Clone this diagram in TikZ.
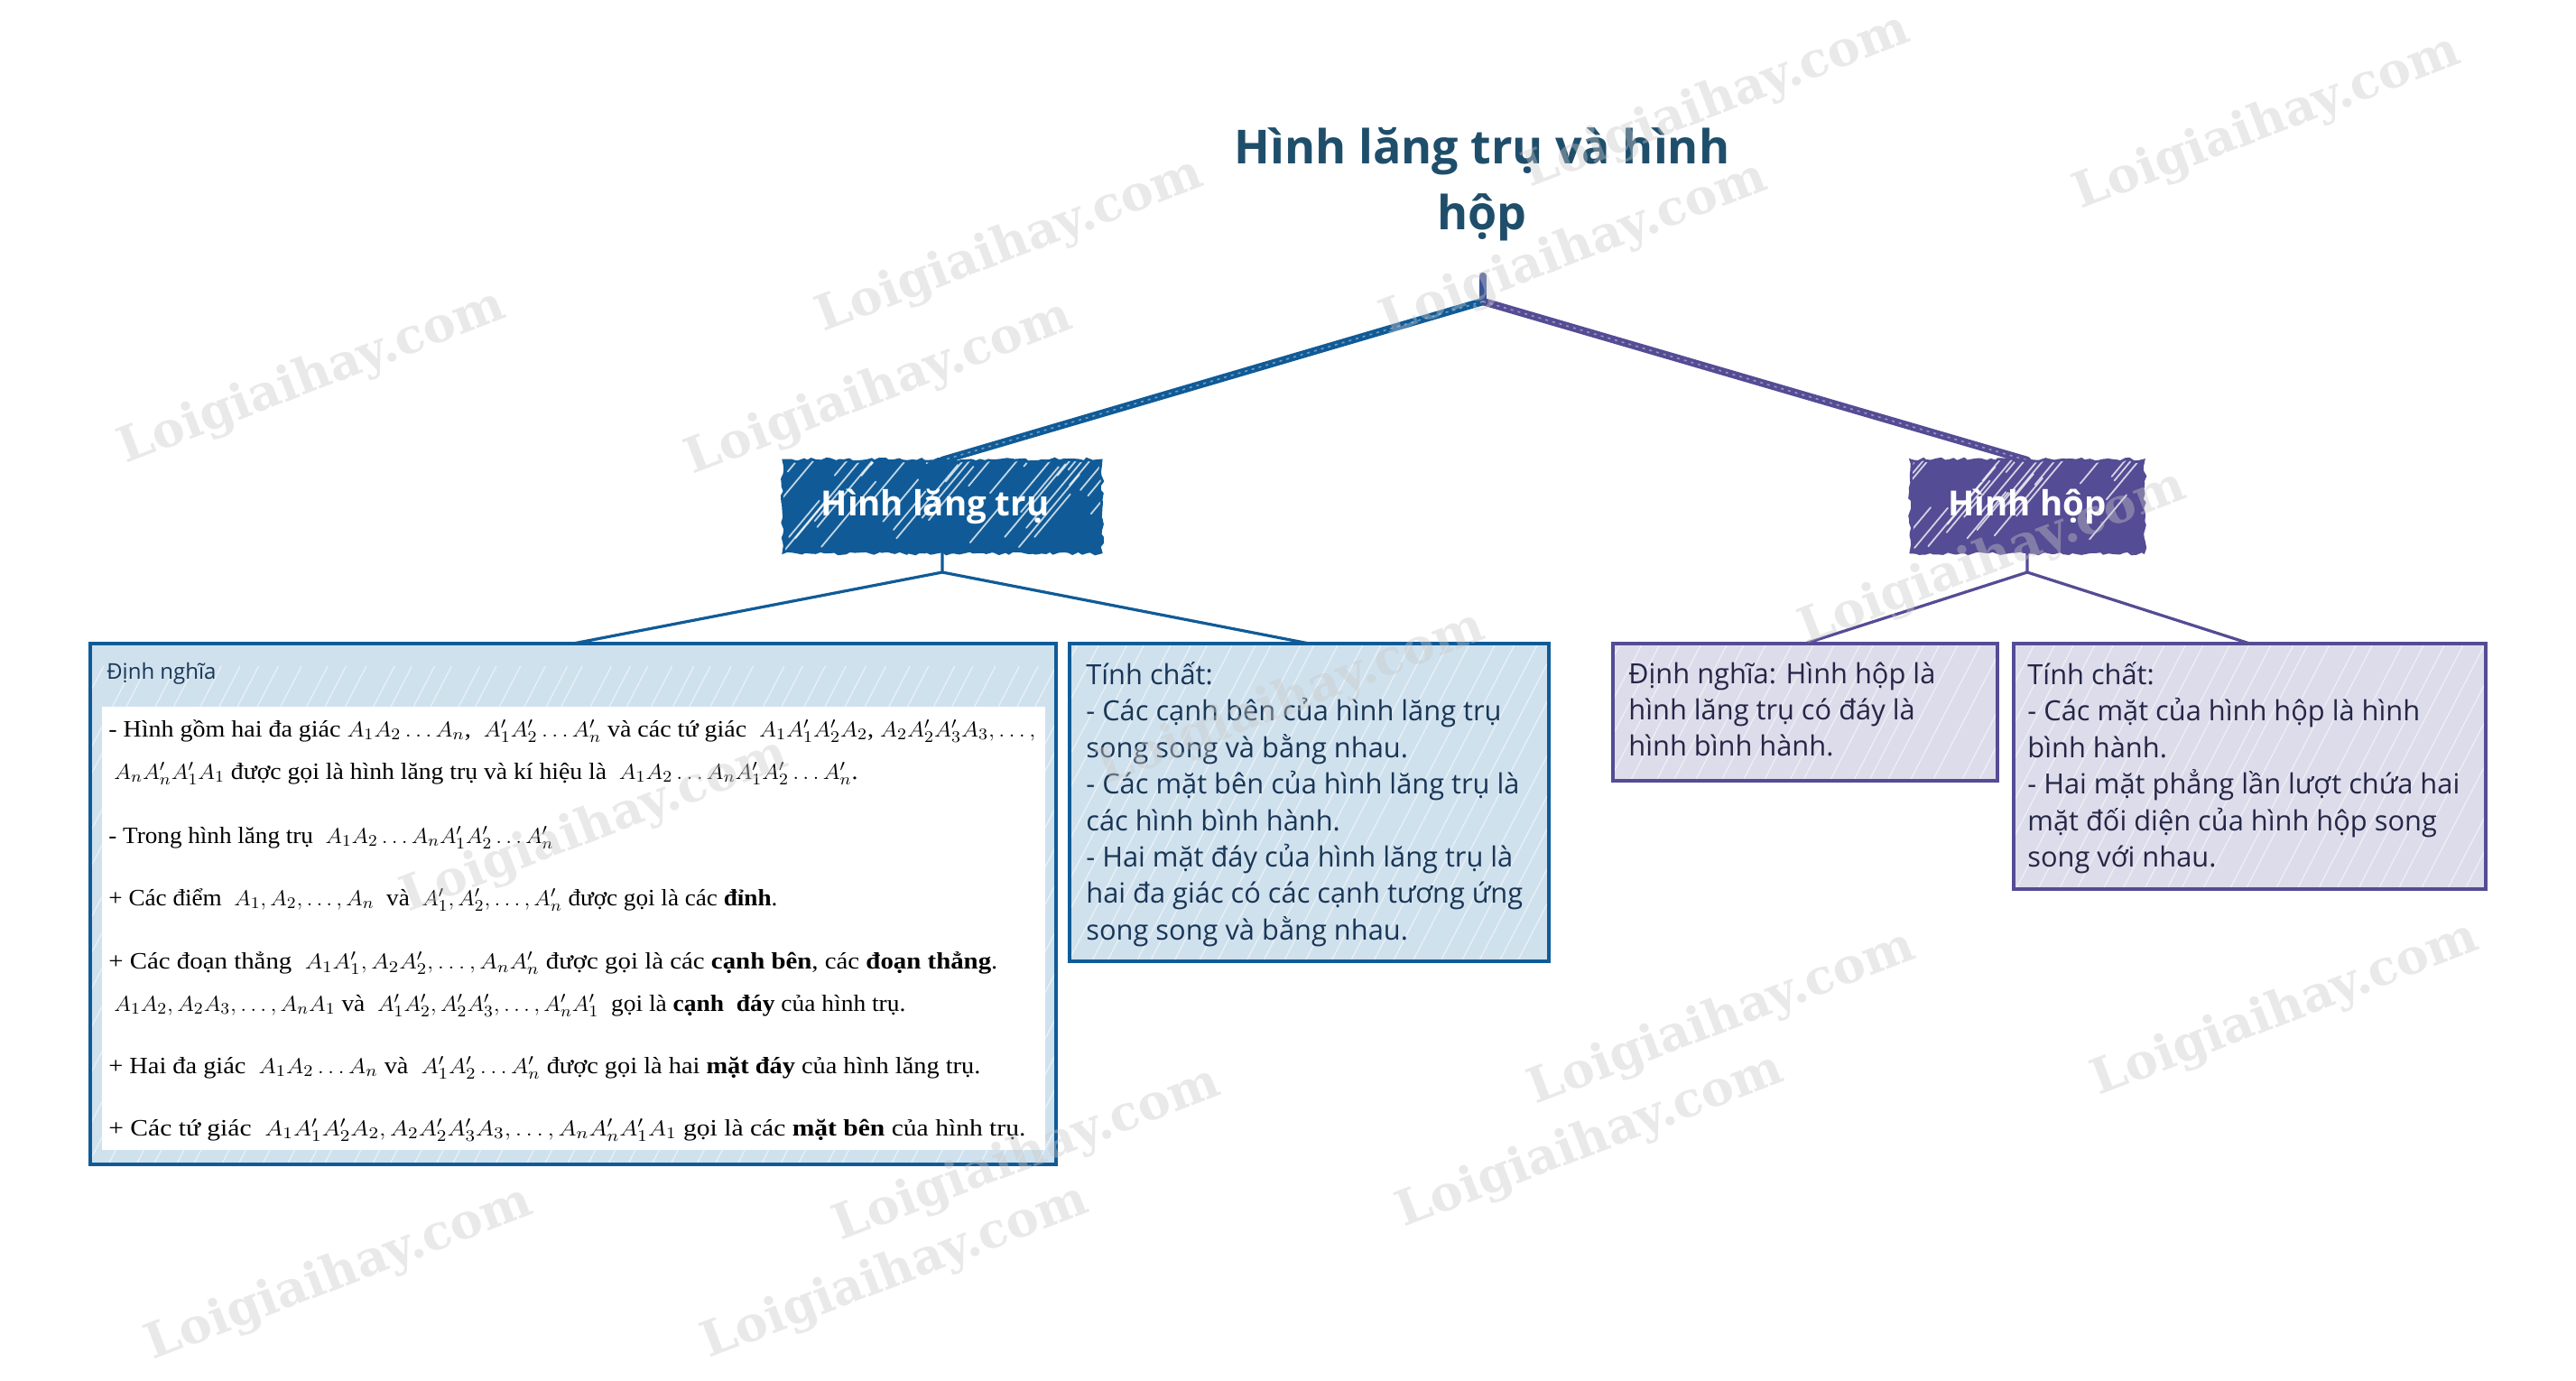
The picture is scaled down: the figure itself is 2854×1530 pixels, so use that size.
\documentclass[tikz,border=0pt]{standalone}
\usepackage{fontspec}
\usepackage{graphicx}
\setmainfont{Liberation Serif}
\newfontfamily\handfont{Open Sans}
\newfontfamily\wmfont{DejaVu Serif}
\usetikzlibrary{calc,decorations.pathmorphing}
\definecolor{bluemain}{RGB}{16,91,151}
\definecolor{bluelight}{RGB}{208,225,238}
\definecolor{purplemain}{RGB}{84,76,148}
\definecolor{purplelight}{RGB}{221,220,235}
\definecolor{titlecol}{RGB}{31,78,107}
\definecolor{navytext}{RGB}{25,54,86}
\definecolor{purpletext}{RGB}{36,38,70}
\definecolor{wmgray}{RGB}{200,200,200}
\newcommand\fitw[2]{\resizebox{#1}{\height}{#2}}
\newcommand\hatchbox[2]{%
  \begin{scope}
    \clip (#1.south west) rectangle (#1.north east);
    \foreach \k in {0,...,#2}{
      \draw[hatchline] ($(#1.south west)+({\k*24-300+12*rnd},8)$) -- ++(290,-560);
    }
  \end{scope}}
\newcommand\strokebox[2]{%
  \begin{scope}
    \clip (#1.south west) rectangle (#1.north east);
    \foreach \k in {1,...,#2}{
      \pgfmathsetmacro\rr{0.5+rnd}
      \draw[strokeline] let \p1=(#1.south west), \p2=(#1.north east),
        \n1={\x1+rnd*(\x2-\x1+20pt)-20pt}, \n2={\y1+rnd*(\y2-\y1)} in
        (\n1,\n2) -- ++({55*\rr},{-66*\rr});
    }
  \end{scope}}
\tikzset{
  hatchline/.style={white, opacity=0.55, line width=0.6pt},
  strokeline/.style={white, opacity=0.75, line width=0.9pt, line cap=round},
  mainbox/.style={rectangle, inner sep=0pt, outer sep=0pt, minimum height=51pt, text=white, font=\handfont\bfseries\fontsize{19.2}{23}\selectfont},
  bluebox/.style={mainbox, fill=bluemain, minimum width=176pt},
  purplebox/.style={mainbox, fill=purplemain, minimum width=129pt},
  ragged/.style={decorate, decoration={random steps, segment length=2.5pt, amplitude=0.9pt}, line width=1.4pt},
  infoblue/.style={rectangle, inner sep=0pt, outer sep=0pt, anchor=north west, fill=bluelight},
  infopurple/.style={rectangle, inner sep=0pt, outer sep=0pt, anchor=north west, fill=purplelight},
  blueborder/.style={draw=bluemain, line width=1.8pt},
  purpleborder/.style={draw=purplemain, line width=1.8pt},
  handtext/.style={anchor=north west, inner sep=0pt, align=left, font=\handfont\fontsize{15.4}{20.2}\selectfont},
  serifline/.style={anchor=west, inner sep=0pt, font=\fontsize{13}{15}\selectfont, text=black},
  rootlink/.style={line width=4.2pt, line cap=round},
  roottex/.style={white, opacity=0.4, line width=0.8pt, dash pattern=on 1.5pt off 2.5pt},
  sublink/.style={line width=1.6pt, line join=round},
  wm/.style={rotate=21, text=wmgray, opacity=0.4, font=\wmfont\bfseries\fontsize{27}{32}\selectfont, inner sep=0pt},
}
\begin{document}
\begin{tikzpicture}[x=0.5pt,y=-0.5pt]
\pgfmathsetseed{7}
\fill[white] (0,0) rectangle (2854,1530);
\useasboundingbox (0,0) rectangle (2854,1530);

% title and root
\node[font=\handfont\bfseries\fontsize{26}{36.5}\selectfont, text=titlecol, align=center, inner sep=0pt] (title) at (1642,204) {Hình lăng trụ và hình\\hộp};
\coordinate (stub) at (1643,306);
\coordinate (root) at (1643,334);

% main boxes (positions)
\node[bluebox] (boxL) at (1044,561) {};
\node[purplebox] (boxR) at (2246,561) {};

% info boxes
\node[infoblue, minimum width=535pt, minimum height=288.5pt] (defL) at (100,713) {};
\node[infoblue, minimum width=265.5pt, minimum height=176pt] (tcL) at (1185,713) {};
\node[infopurple, minimum width=213pt, minimum height=76pt] (defR) at (1787,713) {};
\node[infopurple, minimum width=261.5pt, minimum height=136pt] (tcR) at (2231,713) {};

% connectors
\draw[rootlink, bluemain] (root) -- (boxL.north);
\draw[rootlink, purplemain] (root) -- (boxR.north);
\draw[rootlink, purplemain!60!bluemain] (stub) -- (root);
\draw[roottex] (root) -- (boxL.north);
\draw[roottex] (root) -- (boxR.north);
\coordinate (jL) at (1044,634);
\coordinate (jR) at (2246,634);
\draw[sublink, bluemain] (boxL.south) -- (jL) -- (defL.north);
\draw[sublink, bluemain] (jL) -- (tcL.north);
\draw[sublink, purplemain] (boxR.south) -- (jR) -- (defR.north);
\draw[sublink, purplemain] (jR) -- (tcR.north);

% redraw boxes with hatching
\node[bluebox] at (boxL.center) {};
\strokebox{boxL}{38}
\draw[ragged, bluemain] (boxL.north west) rectangle (boxL.south east);
\node[mainbox] (boxLt) at ([xshift=-4pt]boxL.center) {Hình lăng trụ};
\node[purplebox] at (boxR.center) {};
\strokebox{boxR}{28}
\draw[ragged, purplemain] (boxR.north west) rectangle (boxR.south east);
\node[mainbox] (boxRt) at (boxR.center) {Hình hộp};

\hatchbox{defL}{58}
\hatchbox{tcL}{35}
\hatchbox{defR}{31}
\hatchbox{tcR}{35}
\node[fill=white, inner sep=0pt, outer sep=0pt, anchor=north west, minimum width=522.5pt, minimum height=245.5pt] (defLin) at (113,783) {};
\draw[blueborder] (defL.north west) rectangle (defL.south east);
\draw[blueborder] (tcL.north west) rectangle (tcL.south east);
\draw[purpleborder] (defR.north west) rectangle (defR.south east);
\draw[purpleborder] (tcR.north west) rectangle (tcR.south east);

% left definition
\node[anchor=west, inner sep=0pt, font=\handfont\fontsize{12}{14}\selectfont, text=navytext] (defLhead) at (118,746) {Định nghĩa};
\node[serifline] (l1) at (120,810) {\fitw{513.5pt}{- Hình gồm hai đa giác $A_1A_2\ldots A_n$, \ $A_1'A_2'\ldots A_n'$ và các tứ giác \ $A_1A_1'A_2'A_2$, $A_2A_2'A_3'A_3,\ldots,$}};
\node[serifline] (l2) at (126,857) {\fitw{412pt}{$A_nA_n'A_1'A_1$ được gọi là hình lăng trụ và kí hiệu là \ $A_1A_2\ldots A_nA_1'A_2'\ldots A_n'$.}};
\node[serifline] (l3) at (120,928) {\fitw{246.5pt}{- Trong hình lăng trụ \ $A_1A_2\ldots A_nA_1'A_2'\ldots A_n'$}};
\node[serifline] (l4) at (120,997) {\fitw{370.5pt}{+ Các điểm \ $A_1,A_2,\ldots,A_n$ \ và \ $A_1',A_2',\ldots,A_n'$ được gọi là các \textbf{đỉnh}.}};
\node[serifline] (l5) at (120,1067) {\fitw{492.5pt}{+ Các đoạn thẳng \ $A_1A_1',A_2A_2',\ldots,A_nA_n'$ được gọi là các \textbf{cạnh bên}, các \textbf{đoạn thẳng}.}};
\node[serifline] (l6) at (126,1114) {\fitw{438.5pt}{$A_1A_2,A_2A_3,\ldots,A_nA_1$ và \ $A_1'A_2',A_2'A_3',\ldots,A_n'A_1'$ \ gọi là \textbf{cạnh \ đáy} của hình trụ.}};
\node[serifline] (l7) at (120,1183) {\fitw{483pt}{+ Hai đa giác \ $A_1A_2\ldots A_n$ và \ $A_1'A_2'\ldots A_n'$ được gọi là hai \textbf{mặt đáy} của hình lăng trụ.}};
\node[serifline] (l8) at (120,1252) {\fitw{508pt}{+ Các tứ giác \ $A_1A_1'A_2'A_2,A_2A_2'A_3'A_3,\ldots,A_nA_n'A_1'A_1$ gọi là các \textbf{mặt bên} của hình trụ.}};

% other texts
\node[handtext, text=navytext] (tcLt) at (1203,733) {Tính chất:\\- Các cạnh bên của hình lăng trụ\\song song và bằng nhau.\\- Các mặt bên của hình lăng trụ là\\các hình bình hành.\\- Hai mặt đáy của hình lăng trụ là\\hai đa giác có các cạnh tương ứng\\song song và bằng nhau.};
\node[handtext, text=purpletext] (defRt) at (1804,733) {Định nghĩa: Hình hộp là\\hình lăng trụ có đáy là\\hình bình hành.};
\node[handtext, text=purpletext] (tcRt) at (2246,733) {Tính chất:\\- Các mặt của hình hộp là hình\\bình hành.\\- Hai mặt phẳng lần lượt chứa hai\\mặt đối diện của hình hộp song\\song với nhau.};

% watermarks
\node[wm] (w1) at (346,419) {Loigiaihay.com};
\node[wm] (w2) at (1119,273) {Loigiaihay.com};
\node[wm] (w3) at (974,431) {Loigiaihay.com};
\node[wm] (w4) at (1902,113) {Loigiaihay.com};
\node[wm] (w5) at (2512,137) {Loigiaihay.com};
\node[wm] (w6) at (1744,277) {Loigiaihay.com};
\node[wm] (w7) at (2208,619) {Loigiaihay.com};
\node[wm] (w8) at (659,916) {Loigiaihay.com};
\node[wm] (w9) at (1431,775) {Loigiaihay.com};
\node[wm] (w10) at (1908,1129) {Loigiaihay.com};
\node[wm] (w11) at (1762,1265) {Loigiaihay.com};
\node[wm] (w12) at (2532,1119) {Loigiaihay.com};
\node[wm] (w13) at (1138,1280) {Loigiaihay.com};
\node[wm] (w14) at (992,1410) {Loigiaihay.com};
\node[wm] (w15) at (376,1412) {Loigiaihay.com};
\end{tikzpicture}
\end{document}
